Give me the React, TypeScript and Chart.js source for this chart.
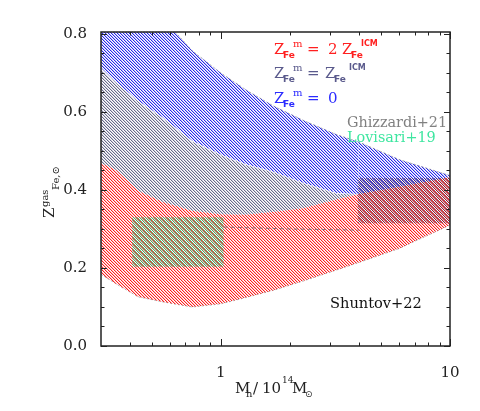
import React, { useEffect, useRef } from "react";
import { Chart, registerables } from "chart.js";
Chart.register(...registerables);

// ---- data ----
const xs = [0.3, 0.35, 0.436, 0.56, 0.75, 1.0, 1.3, 1.7, 2.3, 3.2, 4.0, 6.0, 10];
const blueUpper = [1.02, 0.97, 0.905, 0.84, 0.757, 0.70, 0.655, 0.615, 0.578, 0.542, 0.523, 0.478, 0.437];
const blueLower = [0.713, 0.676, 0.629, 0.585, 0.526, 0.491, 0.465, 0.447, 0.418, 0.392, 0.39, 0.408, 0.433];
const redUpper = [0.469, 0.451, 0.398, 0.369, 0.347, 0.338, 0.337, 0.344, 0.354, 0.376, 0.39, 0.408, 0.433];
const redLower = [0.184, 0.159, 0.126, 0.113, 0.100, 0.108, 0.125, 0.143, 0.167, 0.195, 0.214, 0.25, 0.31];

const dashX = [1.03, 2.0, 4.0];
const dashY = [0.305, 0.300, 0.297];

const lovisariX = [0.41, 1.03];
const lovisariTop = [0.33, 0.33];
const lovisariBottom = [0.203, 0.203];

const ghizzardiX = [3.95, 10];
const ghizzardiTop = [0.431, 0.431];
const ghizzardiBottom = [0.315, 0.315];

const xMajor = [1, 10];
const xTickLabels = ["1", "10"];
const xMinor = [0.4, 0.5, 0.6, 0.7, 0.8, 0.9, 2, 3, 4, 5, 6, 7, 8, 9];
const yMajor = [0, 0.2, 0.4, 0.6, 0.8];
const yTickLabels = ["0.0", "0.2", "0.4", "0.6", "0.8"];
const yMinor = [0.05, 0.1, 0.15, 0.25, 0.3, 0.35, 0.45, 0.5, 0.55, 0.65, 0.7, 0.75];

function pts(xv: number[], yv: number[]) {
  return xv.map((x, i) => ({ x, y: yv[i] }));
}

function makePattern(
  ctx: CanvasRenderingContext2D,
  rgb: [number, number, number],
  n: number,
  kind: "diag" | "check",
  a = 1,
  na = 0.35
) {
  const c = document.createElement("canvas");
  c.width = n;
  c.height = n;
  const t = c.getContext("2d")!;
  const img = t.createImageData(n, n);
  for (let y = 0; y < n; y++) {
    for (let x = 0; x < n; x++) {
      let alpha = 0;
      if (kind === "diag") {
        const k = (((x - y) % n) + n) % n;
        if (k === 0) alpha = a;
        else if (k === 1) alpha = na;
      } else {
        if ((x + y) % 2 === 0) alpha = a;
      }
      const i = (y * n + x) * 4;
      img.data[i] = rgb[0];
      img.data[i + 1] = rgb[1];
      img.data[i + 2] = rgb[2];
      img.data[i + 3] = Math.round(alpha * 255);
    }
  }
  t.putImageData(img, 0, 0);
  return ctx.createPattern(c, "repeat")!;
}

const SERIF = "'DejaVu Serif'";
const SANS = "'DejaVu Sans'";

function t(ctx: CanvasRenderingContext2D, s: string, x: number, y: number, font: string, color: string) {
  ctx.font = font;
  ctx.fillStyle = color;
  ctx.fillText(s, x, y);
}

const framePlugin = {
  id: "frame",
  afterDraw(chart: any) {
    const ctx: CanvasRenderingContext2D = chart.ctx;
    const { left, right, top, bottom } = chart.chartArea;
    const xs_ = chart.scales.x;
    const ys_ = chart.scales.y;
    ctx.save();
    ctx.strokeStyle = "#222";
    ctx.lineWidth = 1.5;
    ctx.strokeRect(left, top, right - left, bottom - top);
    ctx.lineWidth = 1;
    ctx.beginPath();
    const yt = (v: number, len: number) => {
      const p = Math.round(ys_.getPixelForValue(v)) + 0.5;
      ctx.moveTo(left, p);
      ctx.lineTo(left + len, p);
      ctx.moveTo(right, p);
      ctx.lineTo(right - len, p);
    };
    const xt = (v: number, len: number) => {
      const p = Math.round(xs_.getPixelForValue(v)) + 0.5;
      ctx.moveTo(p, bottom);
      ctx.lineTo(p, bottom - len);
      ctx.moveTo(p, top);
      ctx.lineTo(p, top + len);
    };
    yMajor.forEach((v) => yt(v, 6));
    yMinor.forEach((v) => yt(v, 3.5));
    xMajor.forEach((v) => xt(v, 7));
    xMinor.forEach((v) => xt(v, 3.5));
    ctx.stroke();

    ctx.textAlign = "left";
    ctx.textBaseline = "alphabetic";
    const main = `15px ${SERIF}`;
    const sub = `bold 9px ${SANS}`;
    const sup = `10px ${SERIF}`;
    const icm = `bold 8px ${SANS}`;

    // legend line 1
    let c = "#ff2020";
    let b = 54;
    t(ctx, "Z", 274, b, main, c);
    t(ctx, "Fe", 283, b + 4, sub, c);
    t(ctx, "m", 293, b - 7, sup, c);
    t(ctx, "=", 307, b, main, c);
    t(ctx, "2", 328, b, main, c);
    t(ctx, "Z", 342, b, main, c);
    t(ctx, "Fe", 351, b + 4, sub, c);
    t(ctx, "ICM", 361, b - 8, icm, c);
    // legend line 2
    c = "#5a5a8c";
    b = 78;
    t(ctx, "Z", 274, b, main, c);
    t(ctx, "Fe", 283, b + 4, sub, c);
    t(ctx, "m", 293, b - 7, sup, c);
    t(ctx, "=", 307, b, main, c);
    t(ctx, "Z", 325, b, main, c);
    t(ctx, "Fe", 334, b + 4, sub, c);
    t(ctx, "ICM", 349, b - 8, icm, c);
    // legend line 3
    c = "#2b2bff";
    b = 103;
    t(ctx, "Z", 274, b, main, c);
    t(ctx, "Fe", 283, b + 4, sub, c);
    t(ctx, "m", 293, b - 7, sup, c);
    t(ctx, "=", 307, b, main, c);
    t(ctx, "0", 328, b, main, c);

    t(ctx, "Ghizzardi+21", 347, 127, `14.4px ${SERIF}`, "#808080");
    t(ctx, "Lovisari+19", 347, 142, `14.4px ${SERIF}`, "#3ee6a0");
    t(ctx, "Shuntov+22", 330, 308, `14.6px ${SERIF}`, "#111");

    // x title
    const tc = "#222";
    t(ctx, "M", 235, 393, main, tc);
    t(ctx, "h", 246, 397, `10px ${SERIF}`, tc);
    t(ctx, "/", 253, 393, main, tc);
    t(ctx, "10", 262, 393, main, tc);
    t(ctx, "14", 282, 383, `9px ${SERIF}`, tc);
    t(ctx, "M", 292, 393, main, tc);
    t(ctx, "\u2299", 305, 397, `9px ${SANS}`, tc);

    // y title (rotated)
    ctx.translate(54, 218);
    ctx.rotate(-Math.PI / 2);
    t(ctx, "Z", 0, 0, main, tc);
    t(ctx, "gas", 11, -6.5, `10px ${SERIF}`, tc);
    t(ctx, "Fe,\u2299", 28, 5, `10px ${SERIF}`, tc);
    ctx.restore();
  },
};

export default function App() {
  const ref = useRef<HTMLCanvasElement | null>(null);
  useEffect(() => {
    const canvas = ref.current!;
    const ctx = canvas.getContext("2d")!;
    const bluePat = makePattern(ctx, [40, 40, 235], 3, "diag", 1, 0.3);
    const grayPat = makePattern(ctx, [105, 105, 140], 3, "diag", 1, 0.3);
    const redPat = makePattern(ctx, [255, 30, 30], 3, "diag", 1, 0.3);
    const greenPat = makePattern(ctx, [30, 200, 120], 2, "check", 0.75);
    const ghPat = makePattern(ctx, [60, 20, 60], 2, "check", 0.55);

    const base = { pointRadius: 0, tension: 0, clip: 0 };
    const chart = new Chart(canvas, {
      type: "line",
      data: {
        datasets: [
          { ...base, label: "blueUpper", data: pts(xs, blueUpper), fill: "+1", backgroundColor: bluePat,
            borderWidth: 1, borderColor: "rgba(110,110,110,0.55)", borderDash: [2, 2], order: 3 },
          { ...base, label: "blueLower", data: pts(xs, blueLower), fill: "+1", backgroundColor: grayPat,
            borderWidth: 1.3, borderColor: "#fff", order: 3,
            segment: { borderColor: (c: any) => (c.p0.parsed.x >= 3.9 ? "rgba(0,0,0,0)" : "#fff") } },
          { ...base, label: "redUpper", data: pts(xs, redUpper), fill: "+1", backgroundColor: redPat,
            borderWidth: 0, order: 3 },
          { ...base, label: "redLower", data: pts(xs, redLower), fill: false,
            borderWidth: 1, borderColor: "rgba(110,110,110,0.55)", borderDash: [2, 2], order: 3 },
          { ...base, label: "dash", data: pts(dashX, dashY), fill: false,
            borderWidth: 1, borderColor: "rgba(110,100,110,0.8)", borderDash: [4, 3], order: 2 },
          { ...base, label: "lovTop", data: pts(lovisariX, lovisariTop), fill: "+1", backgroundColor: greenPat,
            borderWidth: 0, order: 1 },
          { ...base, label: "lovBottom", data: pts(lovisariX, lovisariBottom), fill: false, borderWidth: 0, order: 1 },
          { ...base, label: "ghTop", data: pts(ghizzardiX, ghizzardiTop), fill: "+1", backgroundColor: ghPat,
            borderWidth: 0, order: 1 },
          { ...base, label: "ghBottom", data: pts(ghizzardiX, ghizzardiBottom), fill: false, borderWidth: 0, order: 1 },
        ] as any,
      },
      options: {
        responsive: false,
        animation: false,
        devicePixelRatio: 1,
        layout: { padding: { left: 0, top: 32, right: 30, bottom: 0 } },
        plugins: { legend: { display: false }, tooltip: { enabled: false } },
        scales: {
          x: {
            type: "logarithmic",
            min: 0.3,
            max: 10,
            grid: { display: false },
            border: { display: false },
            afterBuildTicks: (s: any) => {
              s.ticks = xMajor.map((v) => ({ value: v }));
            },
            afterFit: (s: any) => {
              s.height = 65;
            },
            ticks: {
              autoSkip: false,
              maxRotation: 0,
              padding: 10,
              color: "#222",
              font: { family: "DejaVu Serif", size: 15 },
              callback: (_v: any, i: number) => xTickLabels[i],
            },
          },
          y: {
            type: "linear",
            min: 0,
            max: 0.805,
            grid: { display: false },
            border: { display: false },
            afterBuildTicks: (s: any) => {
              s.ticks = yMajor.map((v) => ({ value: v }));
            },
            afterFit: (s: any) => {
              s.width = 101;
            },
            ticks: {
              autoSkip: false,
              padding: 6,
              color: "#222",
              font: { family: "DejaVu Serif", size: 15 },
              callback: (_v: any, i: number) => yTickLabels[i],
            },
          },
        },
      } as any,
      plugins: [framePlugin],
    });
    return () => chart.destroy();
  }, []);
  return (
    <div style={{ position: "absolute", left: 0, top: 0, width: 480, height: 411 }}>
      <canvas ref={ref} width={480} height={411} style={{ display: "block" }} />
    </div>
  );
}
